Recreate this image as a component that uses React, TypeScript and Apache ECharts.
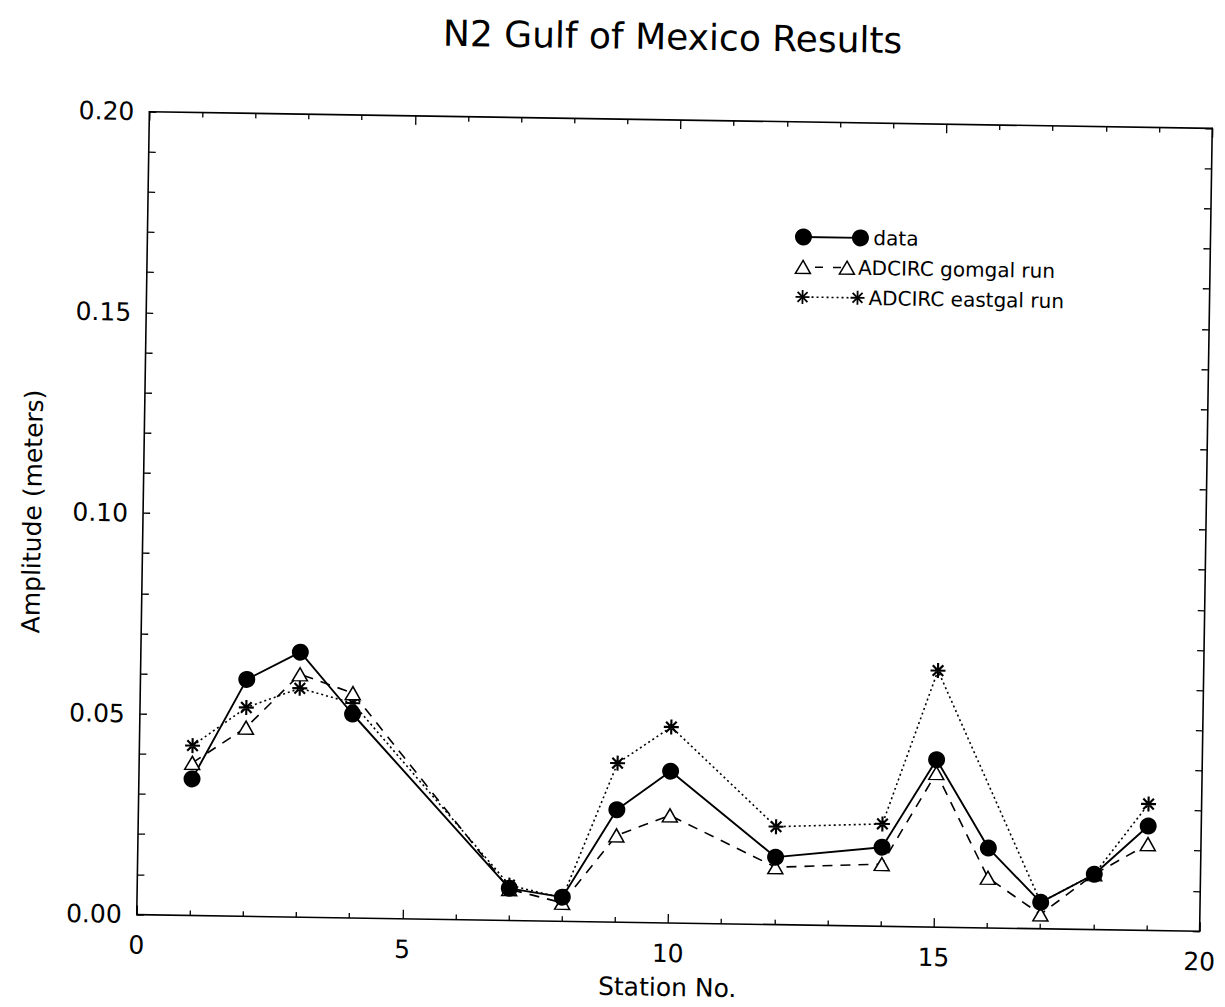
import React, { useEffect, useRef } from "react";
import * as echarts from "echarts";

// Station numbers along the Gulf of Mexico and the N2 tidal amplitudes (m)
const stations = [1, 2, 3, 4, 7, 8, 9, 10, 12, 14, 15, 16, 17, 18, 19];
const dataAmp = [0.034, 0.059, 0.066, 0.0508, 0.008, 0.006, 0.028, 0.0378, 0.0168, 0.0197, 0.0417, 0.0199, 0.0066, 0.0138, 0.026];
const gomgalAmp = [0.038, 0.047, 0.0605, 0.056, 0.0078, 0.0046, 0.0216, 0.0268, 0.0143, 0.0155, 0.0384, 0.0125, 0.0036, 0.0138, 0.0215];
const eastgalAmp = [0.0423, 0.052, 0.057, 0.0535, 0.0088, 0.0058, 0.0396, 0.0488, 0.0244, 0.0255, 0.0639, null, 0.0066, 0.0138, 0.0315];

const seriesNames = ["data", "ADCIRC gomgal run", "ADCIRC eastgal run"];
const titleText = "N2 Gulf of Mexico Results";
const xAxisName = "Station No.";
const yAxisName = "Amplitude (meters)";

const FONT = '"DejaVu Sans", sans-serif';
const INK = "#000";

// eight-armed asterisk used as the eastgal marker
const STAR_PATH =
  "path://M-7 -1L7 -1L7 1L-7 1Z M-1 -7L1 -7L1 7L-1 7Z " +
  "M-4.24 -5.66L5.66 4.24L4.24 5.66L-5.66 -4.24Z " +
  "M5.66 -4.24L-4.24 5.66L-5.66 4.24L4.24 -5.66Z";

function pairs(values: (number | null)[]) {
  return stations.map((s, i) => [s, values[i]]);
}

function starGlyph(cx: number, cy: number, r: number) {
  const children = [0, 45, 90, 135].map((deg) => {
    const a = (deg * Math.PI) / 180;
    return {
      type: "line",
      shape: {
        x1: cx - r * Math.cos(a),
        y1: cy - r * Math.sin(a),
        x2: cx + r * Math.cos(a),
        y2: cy + r * Math.sin(a),
      },
      style: { stroke: INK, lineWidth: 1.8 },
    };
  });
  return { type: "group", children };
}

function triangleGlyph(cx: number, cy: number) {
  return {
    type: "polygon",
    shape: {
      points: [
        [cx, cy - 6.5],
        [cx + 7.5, cy + 6.5],
        [cx - 7.5, cy + 6.5],
      ],
    },
    style: { fill: "#fff", stroke: INK, lineWidth: 1.5 },
  };
}

function legendText(x: number, y: number, text: string) {
  return {
    type: "text",
    x,
    y,
    style: {
      text,
      font: `20px ${FONT}`,
      fill: INK,
      verticalAlign: "middle",
      textVerticalAlign: "middle",
    },
  };
}

function buildLegend() {
  const lx = 799;
  const ly = 235;
  const gap = 30;
  const y0 = ly;
  const y1 = ly + gap;
  const y2 = ly + 2 * gap;
  return [
    {
      type: "line",
      shape: { x1: lx, y1: y0, x2: lx + 57, y2: y0 },
      style: { stroke: INK, lineWidth: 1.8 },
    },
    { type: "circle", shape: { cx: lx, cy: y0, r: 8.5 }, style: { fill: INK } },
    { type: "circle", shape: { cx: lx + 57, cy: y0, r: 8.5 }, style: { fill: INK } },
    legendText(lx + 70, y0, seriesNames[0]),

    {
      type: "line",
      shape: { x1: lx + 12, y1: y1, x2: lx + 38, y2: y1 },
      style: { stroke: INK, lineWidth: 1.5, lineDash: [8, 10] },
    },
    triangleGlyph(lx, y1),
    triangleGlyph(lx + 44, y1),
    legendText(lx + 55, y1, seriesNames[1]),

    {
      type: "line",
      shape: { x1: lx + 9, y1: y2, x2: lx + 48, y2: y2 },
      style: { stroke: INK, lineWidth: 1.6, lineDash: [2, 3] },
    },
    starGlyph(lx, y2, 7),
    starGlyph(lx + 55, y2, 7),
    legendText(lx + 66, y2, seriesNames[2]),
  ];
}

function frameAxis(extra: any) {
  return {
    axisLine: { show: true, onZero: false, lineStyle: { color: INK, width: 1.6 } },
    splitLine: { show: false },
    ...extra,
  };
}

export default function App() {
  const ref = useRef<HTMLDivElement>(null);

  useEffect(() => {
    if (!ref.current) return;
    const chart = echarts.init(ref.current, null, { renderer: "svg" });

    const xCommon = {
      type: "value",
      min: 0,
      max: 20,
      interval: 5,
      axisTick: { show: true, inside: true, length: 9, lineStyle: { color: INK, width: 1.3 } },
      minorTick: { show: true, splitNumber: 5, length: 5, lineStyle: { color: INK, width: 1.3 } },
    };
    const yCommon = {
      type: "value",
      min: 0,
      max: 0.2,
      interval: 0.05,
      axisTick: { show: true, inside: true, length: 7, lineStyle: { color: INK, width: 1.3 } },
      minorTick: { show: true, splitNumber: 5, length: 7, lineStyle: { color: INK, width: 1.3 } },
    };

    chart.setOption({
      animation: false,
      backgroundColor: "#fff",
      title: {
        text: titleText,
        left: 660,
        top: 14,
        textAlign: "center",
        textStyle: { fontFamily: FONT, fontSize: 36, fontWeight: "normal", color: INK },
      },
      grid: { left: 143, top: 120, width: 1064, height: 803 },
      xAxis: [
        frameAxis({
          ...xCommon,
          position: "bottom",
          axisLabel: {
            color: INK,
            fontFamily: FONT,
            fontSize: 25,
            margin: 18,
            formatter: (v: number) => String(v),
          },
          name: xAxisName,
          nameLocation: "middle",
          nameGap: 52,
          nameTextStyle: { color: INK, fontFamily: FONT, fontSize: 25 },
        }),
        frameAxis({ ...xCommon, position: "top", axisLabel: { show: false } }),
      ],
      yAxis: [
        frameAxis({
          ...yCommon,
          position: "left",
          axisLabel: {
            color: INK,
            fontFamily: FONT,
            fontSize: 25,
            margin: 15,
            formatter: (v: number) => v.toFixed(2),
          },
          name: yAxisName,
          nameLocation: "middle",
          nameGap: 98,
          nameTextStyle: { color: INK, fontFamily: FONT, fontSize: 25 },
        }),
        frameAxis({ ...yCommon, position: "right", axisLabel: { show: false } }),
      ],
      series: [
        {
          name: seriesNames[2],
          type: "line",
          xAxisIndex: 0,
          yAxisIndex: 0,
          data: pairs(eastgalAmp),
          connectNulls: true,
          symbol: STAR_PATH,
          symbolSize: 15,
          symbolKeepAspect: true,
          itemStyle: { color: INK },
          lineStyle: { color: INK, width: 1.6, type: [2, 3] },
        },
        {
          name: seriesNames[1],
          type: "line",
          xAxisIndex: 0,
          yAxisIndex: 0,
          data: pairs(gomgalAmp),
          symbol: "triangle",
          symbolSize: [15, 13],
          itemStyle: { color: "#fff", borderColor: INK, borderWidth: 1.5 },
          lineStyle: { color: INK, width: 1.6, type: [10, 8] },
        },
        {
          name: seriesNames[0],
          type: "line",
          xAxisIndex: 0,
          yAxisIndex: 0,
          data: pairs(dataAmp),
          symbol: "circle",
          symbolSize: 17,
          itemStyle: { color: INK },
          lineStyle: { color: INK, width: 1.9 },
        },
      ],
      graphic: buildLegend(),
    });

    return () => chart.dispose();
  }, []);

  return (
    <div
      style={{
        position: "fixed",
        left: 0,
        top: 0,
        width: 1225,
        height: 1007,
        overflow: "hidden",
        background: "#fff",
      }}
    >
      <div
        ref={ref}
        style={{
          width: 1225,
          height: 1007,
          transform: "rotate(0.9deg)",
          transformOrigin: "675px 521px",
        }}
      />
    </div>
  );
}
